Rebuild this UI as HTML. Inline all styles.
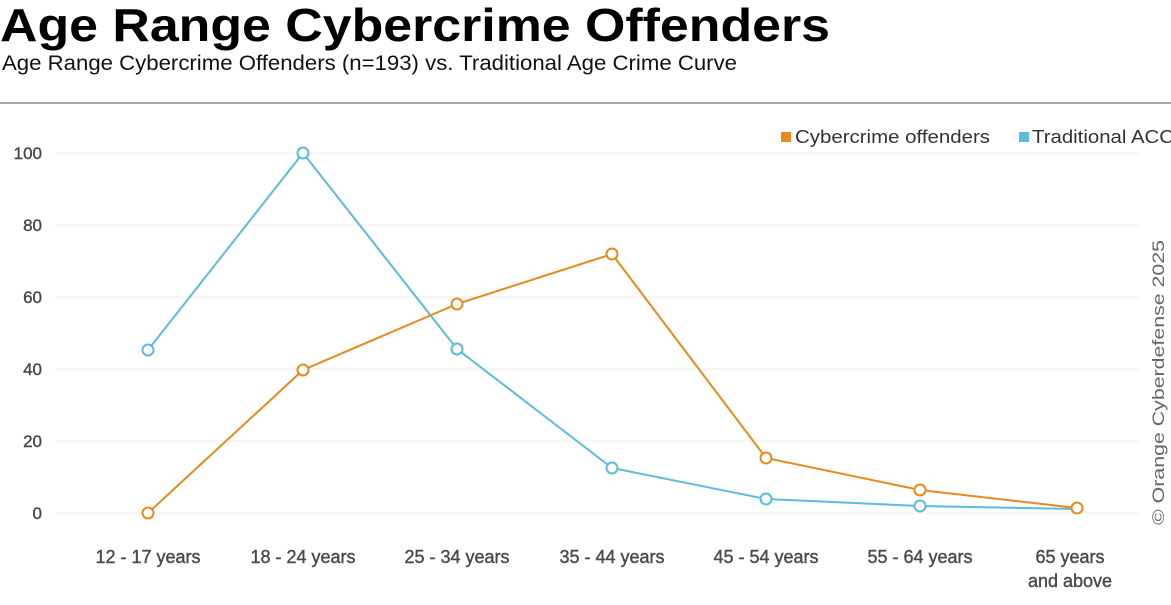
<!DOCTYPE html>
<html><head><style>
body{margin:0;width:1171px;height:600px;background:#fff;overflow:hidden;font-family:"Liberation Sans",Arial,sans-serif;}
</style></head><body>
<svg width="1171" height="600" xmlns="http://www.w3.org/2000/svg" font-family="Liberation Sans, Arial, sans-serif">
<text x="0" y="41" font-size="46" font-weight="bold" fill="#000" textLength="830" lengthAdjust="spacingAndGlyphs">Age Range Cybercrime Offenders</text>
<text x="2" y="70" font-size="21" fill="#111" textLength="735" lengthAdjust="spacingAndGlyphs">Age Range Cybercrime Offenders (n=193) vs. Traditional Age Crime Curve</text>
<line x1="0" y1="103" x2="1171" y2="103" stroke="#888" stroke-width="1.5"/>
<g stroke="#eee" stroke-width="1">
<line x1="55" y1="153" x2="1140" y2="153"/><line x1="55" y1="225" x2="1140" y2="225"/>
<line x1="55" y1="297" x2="1140" y2="297"/><line x1="55" y1="369" x2="1140" y2="369"/>
<line x1="55" y1="441" x2="1140" y2="441"/><line x1="55" y1="513" x2="1140" y2="513"/>
</g>
<g font-size="17" fill="#4a4a4a" stroke="#4a4a4a" stroke-width="0.4" text-anchor="end">
<text x="42" y="159">100</text><text x="42" y="231">80</text><text x="42" y="303">60</text>
<text x="42" y="375">40</text><text x="42" y="447">20</text><text x="42" y="519">0</text>
</g>
<g font-size="18" fill="#4a4a4a" stroke="#4a4a4a" stroke-width="0.4" text-anchor="middle">
<text x="148" y="563">12 - 17 years</text><text x="303" y="563">18 - 24 years</text>
<text x="457" y="563">25 - 34 years</text><text x="612" y="563">35 - 44 years</text>
<text x="766" y="563">45 - 54 years</text><text x="920" y="563">55 - 64 years</text>
<text x="1070" y="563">65 years</text><text x="1070" y="587">and above</text>
</g>
<polyline fill="none" stroke="#5bbcdc" stroke-width="2" points="148,350 303,153 457,349 612,468 766,499 920,506 1077,509"/>
<polyline fill="none" stroke="#e8891c" stroke-width="2" points="148,513 303,370 457,304 612,254 766,458 920,490 1077,508"/>
<g fill="#fff" stroke="#5bbcdc" stroke-width="2">
<circle cx="148" cy="350" r="5.5"/><circle cx="303" cy="153" r="5.5"/><circle cx="457" cy="349" r="5.5"/>
<circle cx="612" cy="468" r="5.5"/><circle cx="766" cy="499" r="5.5"/><circle cx="920" cy="506" r="5.5"/>
</g>
<g fill="#fff" stroke="#e8891c" stroke-width="2">
<circle cx="148" cy="513" r="5.5"/><circle cx="303" cy="370" r="5.5"/><circle cx="457" cy="304" r="5.5"/>
<circle cx="612" cy="254" r="5.5"/><circle cx="766" cy="458" r="5.5"/><circle cx="920" cy="490" r="5.5"/>
<circle cx="1077" cy="508" r="5.5"/>
</g>
<rect x="781" y="132" width="10" height="10" fill="#e8891c"/>
<text x="795" y="143" font-size="18" fill="#333" textLength="195" lengthAdjust="spacingAndGlyphs">Cybercrime offenders</text>
<rect x="1019" y="132" width="10" height="10" fill="#5bbcdc"/>
<text x="1032" y="143" font-size="18" fill="#333" textLength="142" lengthAdjust="spacingAndGlyphs">Traditional ACC</text>
<text transform="translate(1164,525) rotate(-90)" font-size="17" fill="#666" textLength="285" lengthAdjust="spacingAndGlyphs">© Orange Cyberdefense 2025</text>
</svg>
</body></html>
